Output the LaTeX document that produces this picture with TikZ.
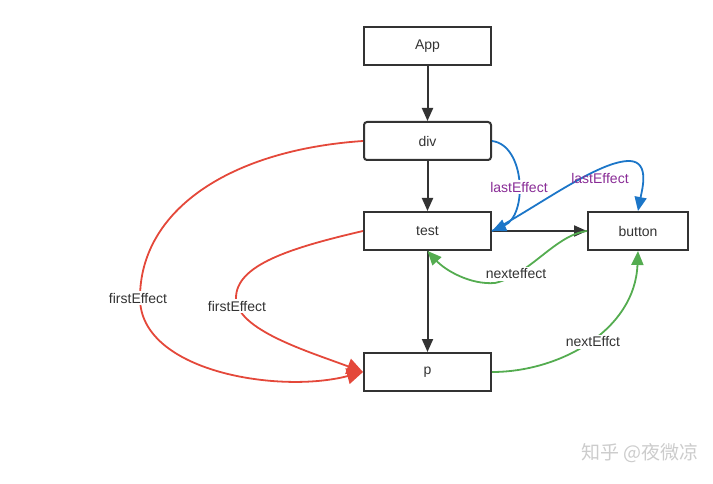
\documentclass[tikz,border=0pt]{standalone}
\usepackage{fontspec}
\setmainfont{Liberation Sans}
\newfontfamily\cjkfont{Noto Sans CJK SC}
\usetikzlibrary{arrows.meta,positioning}
\definecolor{ink}{RGB}{51,51,51}
\definecolor{firstred}{RGB}{228,72,58}
\definecolor{lastblue}{RGB}{28,118,200}
\definecolor{nextgreen}{RGB}{84,172,80}
\definecolor{lastpurple}{RGB}{137,44,150}

\begin{document}
\begin{tikzpicture}[
    x=1pt, y=-1pt,
    node distance=50pt and 95pt,
    box/.style={draw=ink, line width=2pt, minimum width=127pt, minimum height=38pt, text=ink, font=\fontsize{14}{16}\selectfont},
    lbl/.style={fill=white, inner sep=1.5pt, text=ink, font=\fontsize{14}{16}\selectfont},
    line/.style={-{Triangle[length=13pt,width=11pt]}, line width=2pt, draw=ink},
    firstline/.style={-{Triangle[length=16pt,width=16pt]}, line width=1.8pt, draw=firstred},
    lastline/.style={-{Triangle[length=14pt,width=12pt]}, line width=1.8pt, draw=lastblue},
    nextline/.style={-{Triangle[length=14pt,width=12pt]}, line width=1.8pt, draw=nextgreen}
]
\useasboundingbox (0,0) rectangle (713,484);

% fiber tree
\node[box] (app) at (427.5,46) {App};
\node[box, rounded corners=3pt, below=55pt of app] (div) {div};
\node[box, below=of div] (test) {test};
\node[box, below=101pt of test] (p) {p};
\node[box, minimum width=100pt, right=of test] (button) {button};

\draw[line] (app) -- (div);
\draw[line] (div) -- (test);
\draw[line] (test) -- (p);
\draw[line] (test.east) -- (button.west);

% firstEffect
\draw[firstline] (div.west) .. controls (230,150) and (140,210) .. (140,298)
    .. controls (140,372) and (280,394) .. (p.west);
\draw[firstline] (test.west) .. controls (290,248) and (236,265) .. (236,298)
    .. controls (236,330) and (310,352) .. (p.west);

% lastEffect
\draw[lastline] (div.east) .. controls (525,145) and (528,215) .. (test.east);
\draw[lastline] (test.east) .. controls (540,205) and (600,160) .. (630,161)
    .. controls (650,162) and (642,190) .. (button.north);

% nextEffect
\draw[nextline] (button.west) .. controls (555,235) and (530,275) .. (495,283)
    .. controls (470,285) and (445,270) .. (test.south);
\draw[nextline] (p.east) .. controls (560,372) and (635,330) .. (button.south);

% labels
\node[lbl] (fe1) at (138,298) {firstEffect};
\node[lbl] (fe2) at (237,306) {firstEffect};
\node[lbl, text=lastpurple] (le1) at (519,187) {lastEffect};
\node[lbl, text=lastpurple, fill=none] (le2) at (600,178) {lastEffect};
\node[lbl] (ne1) at (516,274) {nexteffect};
\node[lbl] (ne2) at (593,342) {nextEffct};

% watermark
\node[text=gray!40, font=\cjkfont\fontsize{19}{22}\selectfont] (mark) at (640,453) {知乎 @夜微凉};
\end{tikzpicture}
\end{document}
